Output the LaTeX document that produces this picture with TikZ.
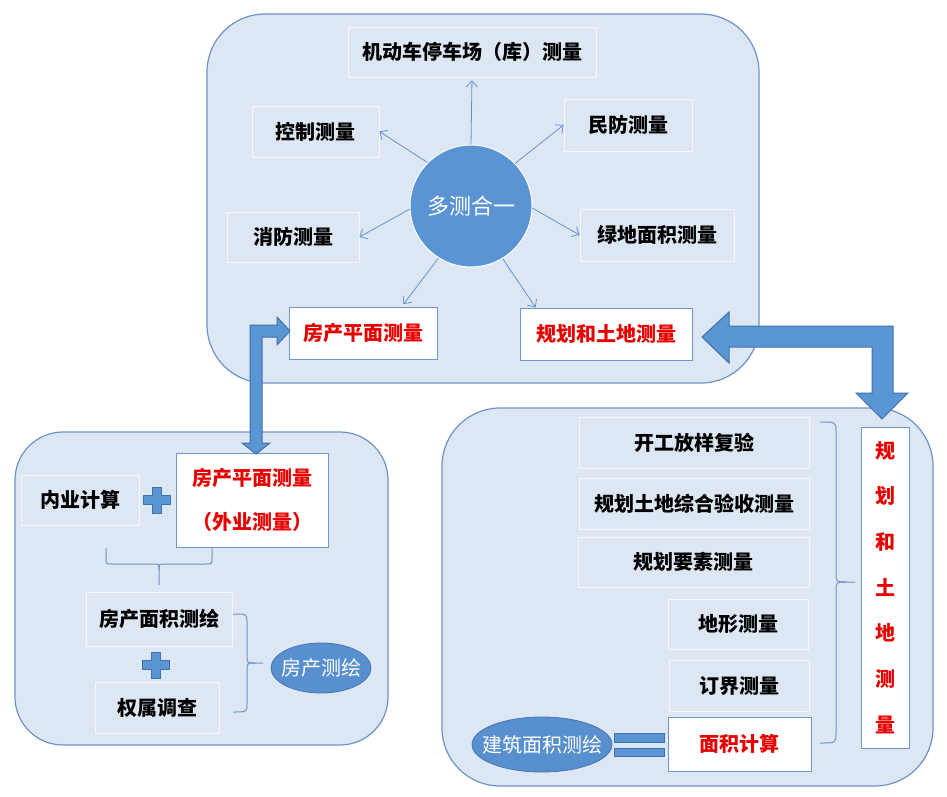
\documentclass[tikz,border=0pt]{standalone}
\usepackage{fontspec}
\setmainfont{Noto Sans CJK SC}
\usetikzlibrary{arrows.meta,shapes.geometric,calc}
\definecolor{panelfill}{RGB}{221,231,244}
\definecolor{panelline}{RGB}{108,147,200}
\definecolor{boxline}{RGB}{244,248,253}
\definecolor{wline}{RGB}{110,150,205}
\definecolor{hubfill}{RGB}{90,148,210}
\definecolor{ovalfill}{RGB}{88,143,206}
\definecolor{ovalline}{RGB}{70,118,175}
\definecolor{raycol}{RGB}{100,145,205}
\definecolor{fatfill}{RGB}{91,150,212}
\definecolor{fatline}{RGB}{65,113,170}
\definecolor{redtext}{RGB}{232,0,0}
\begin{document}
\begin{tikzpicture}[x=1pt,y=-1pt,
  panel/.style={fill=panelfill,draw=panelline,line width=1.2pt},
  lbox/.style={draw=boxline,fill=panelfill,line width=0.8pt,inner sep=0pt,text=black,font=\fontsize{20}{24}\selectfont\bfseries},
  wbox/.style={draw=wline,fill=white,line width=0.9pt,inner sep=0pt,text=redtext,font=\fontsize{20}{24}\selectfont\bfseries},
  hub/.style={circle,fill=hubfill,draw=white,line width=1pt,minimum size=122pt,inner sep=0pt,text=white,font=\fontsize{22}{26}\selectfont},
  oval/.style={ellipse,fill=ovalfill,draw=ovalline,line width=0.8pt,inner sep=0pt,text=white,font=\fontsize{20}{24}\selectfont},
  ray/.style={draw=raycol,line width=0.8pt,-{Straight Barb[length=6pt,width=11pt]}},
  fat/.style={fill=fatfill,draw=fatline,line width=1pt,line join=miter},
  bracket/.style={draw=panelline,line width=1pt},
  plussign/.pic={\draw[fat] (-4.5,-13) -- (4.5,-13) -- (4.5,-4.5) -- (13.5,-4.5) -- (13.5,4.5) -- (4.5,4.5) -- (4.5,13) -- (-4.5,13) -- (-4.5,4.5) -- (-13.5,4.5) -- (-13.5,-4.5) -- (-4.5,-4.5) -- cycle;}
]
\useasboundingbox (0,0) rectangle (947,797);
\fill[white] (0,0) rectangle (947,797);

% panels
\draw[panel,rounded corners=58pt] (207,14) rectangle (759,383);
\draw[panel,rounded corners=48pt] (15,432) rectangle (388,745);
\draw[panel,rounded corners=58pt] (442,408) rectangle (933,786);

% top panel
\node[lbox,minimum width=248pt,minimum height=50pt] (park) at (472,52) {机动车停车场（库）测量};
\node[lbox,minimum width=127pt,minimum height=51pt] (ctrl) at (315.5,131.5) {控制测量};
\node[lbox,minimum width=128pt,minimum height=52pt] (mf) at (628,125) {民防测量};
\node[lbox,minimum width=132pt,minimum height=50pt] (xf) at (293,237) {消防测量};
\node[lbox,minimum width=154pt,minimum height=52pt] (ld) at (657,235) {绿地面积测量};
\node[wbox,minimum width=148pt,minimum height=52pt] (fc) at (363,333) {房产平面测量};
\node[wbox,minimum width=172pt,minimum height=52pt] (gh) at (606,334) {规划和土地测量};
\node[hub] (hub) at (471,206) {多测合一};

\draw[ray,shorten >=3pt] (hub.90) -- (park.south);
\draw[ray] (hub.135) -- (ctrl.east);
\draw[ray] (hub.44) -- (mf.west);
\draw[ray] (hub.183) -- (xf.east);
\draw[ray] (hub.358) -- (ld.west);
\draw[ray,shorten >=3pt] (hub.238) -- ($(fc.north west)!0.76!(fc.north east)$);
\draw[ray] (hub.301) -- ($(gh.north west)!0.093!(gh.north east)$);

% bottom-left panel
\node[lbox,minimum width=118pt,minimum height=50pt] (nyjs) at (80,500) {内业计算};
\pic at (157,500) {plussign};
\node[wbox,minimum width=152pt,minimum height=94pt,align=center,font=\fontsize{20}{44}\selectfont\bfseries] (fcwy) at (252,500) {房产平面测量\\（外业测量）};
\draw[bracket] (106,548) -- (106,558) .. controls (106,564) .. (112,564) -- (153,564) .. controls (159,564) .. (159,570) -- (159,585);
\draw[bracket] (212,548) -- (212,558) .. controls (212,564) .. (206,564) -- (165,564) .. controls (159,564) .. (159,570);
\node[lbox,minimum width=146pt,minimum height=54pt] (fcmj) at (159,619) {房产面积测绘};
\pic at (156,665) {plussign};
\node[lbox,minimum width=124pt,minimum height=51pt] (qsdc) at (157,707.5) {权属调查};
\draw[bracket] (233,614) .. controls (247,614) .. (247,622) -- (247,655) .. controls (247,663) .. (255,663) -- (263,663);
\draw[bracket] (233,712) .. controls (247,712) .. (247,704) -- (247,671) .. controls (247,663) .. (255,663);
\node[oval,minimum width=100pt,minimum height=50pt] (fcch) at (321,668) {\makebox[0pt]{房产测绘}};

% bottom-right panel
\node[lbox,minimum width=230pt,minimum height=51pt] (kg) at (694,442.5) {开工放样复验};
\node[lbox,minimum width=230pt,minimum height=51pt] (ghtd) at (694,503.5) {规划土地综合验收测量};
\node[lbox,minimum width=231pt,minimum height=50pt] (ghys) at (693.5,562) {规划要素测量};
\node[lbox,minimum width=140pt,minimum height=50pt] (dx) at (738,624) {地形测量};
\node[lbox,minimum width=140pt,minimum height=51pt] (dj) at (739,685.5) {订界测量};
\node[wbox,minimum width=143pt,minimum height=54pt] (mj) at (739.5,744) {面积计算};
\node[oval,minimum width=140pt,minimum height=55pt] (jz) at (542,744.5) {\makebox[0pt]{建筑面积测绘}};
\draw[fat] (614,733) rectangle (664,742);
\draw[fat] (614,748) rectangle (664,756);
\draw[bracket] (820,422) .. controls (836,422) .. (836,432) -- (836,572) .. controls (836,582) .. (846,582) -- (855,582);
\draw[bracket] (820,743) .. controls (836,743) .. (836,733) -- (836,592) .. controls (836,582) .. (846,582);
\node[wbox,minimum width=48pt,minimum height=321pt,align=center,font=\fontsize{20}{45.7}\selectfont\bfseries] (ghv) at (885,587.5) {规\\划\\和\\土\\地\\测\\量};

% fat elbow arrows
\draw[fat] (250,325) -- (277,325) -- (277,317) -- (290,331) -- (277,345) -- (277,337) -- (262,337) -- (262,443) -- (270,443) -- (256,454) -- (242,443) -- (250,443) -- cycle;
\draw[fat] (702,337) -- (729,312) -- (729,326) -- (893,326) -- (893,393) -- (908,393) -- (882,419) -- (856,393) -- (872,393) -- (872,347) -- (729,347) -- (729,363) -- cycle;
\end{tikzpicture}
\end{document}
